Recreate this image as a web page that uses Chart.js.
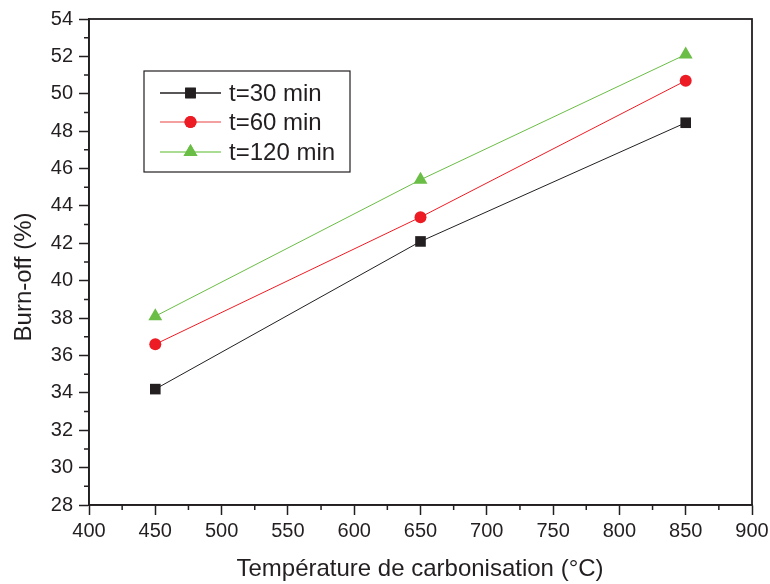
<!DOCTYPE html>
<html>
<head>
<meta charset="utf-8">
<script src="https://cdn.jsdelivr.net/npm/chart.js@4/dist/chart.umd.min.js"></script>
<style>
  html, body { margin: 0; padding: 0; background: #fff; }
  #wrap { width: 770px; height: 584px; }
</style>
</head>
<body>
<div id="wrap"><canvas id="chart" width="770" height="584"></canvas></div>
<script>
// data
const temperatures = [450, 650, 850];
const burnOff30 = [34.2, 42.1, 48.45];
const burnOff60 = [36.6, 43.4, 50.7];
const burnOff120 = [38.1, 45.4, 52.1];
const seriesLabels = ['t=30 min', 't=60 min', 't=120 min'];

const xTicks = [400, 450, 500, 550, 600, 650, 700, 750, 800, 850, 900];
const yTicks = [28, 30, 32, 34, 36, 38, 40, 42, 44, 46, 48, 50, 52, 54];

const ink = '#231f20';
const fontFam = 'Liberation Sans, Arial, Helvetica, sans-serif';

function pts(ys) {
  return temperatures.map((x, i) => ({ x: x, y: ys[i] }));
}

const datasets = [
  { label: seriesLabels[0], data: pts(burnOff30), borderColor: ink, backgroundColor: ink,
    pointStyle: 'rect', pointRadius: 7.5, lineColor: ink },
  { label: seriesLabels[1], data: pts(burnOff60), borderColor: '#ed1c24', backgroundColor: '#ed1c24',
    pointStyle: 'circle', pointRadius: 6, lineColor: '#f08080' },
  { label: seriesLabels[2], data: pts(burnOff120), borderColor: '#6abd45', backgroundColor: '#6abd45',
    pointStyle: 'triangle', pointRadius: 8, lineColor: '#8fd070' },
];
datasets.forEach(d => {
  d.borderWidth = 1;
  d.pointBorderWidth = 0;
  d.pointHoverRadius = d.pointRadius;
  d.tension = 0;
  d.showLine = true;
});

// frame, minor ticks, axis titles and legend box
const extras = {
  id: 'extras',
  afterDraw(chart) {
    const ctx = chart.ctx;
    const a = chart.chartArea;
    const xs = chart.scales.x, ys = chart.scales.y;
    ctx.save();
    ctx.strokeStyle = ink;
    ctx.lineWidth = 1.8;
    ctx.strokeRect(a.left, a.top, a.right - a.left, a.bottom - a.top);

    // minor ticks
    ctx.lineWidth = 1.5;
    ctx.beginPath();
    for (let i = 0; i < xTicks.length - 1; i++) {
      const px = xs.getPixelForValue((xTicks[i] + xTicks[i + 1]) / 2);
      ctx.moveTo(px, a.bottom);
      ctx.lineTo(px, a.bottom + 5);
    }
    for (let i = 0; i < yTicks.length - 1; i++) {
      const py = ys.getPixelForValue((yTicks[i] + yTicks[i + 1]) / 2);
      ctx.moveTo(a.left, py);
      ctx.lineTo(a.left - 5, py);
    }
    ctx.stroke();

    // axis titles
    ctx.fillStyle = ink;
    ctx.font = '24px ' + fontFam;
    ctx.textAlign = 'center';
    ctx.textBaseline = 'middle';
    ctx.fillText('Température de carbonisation (°C)', 420, 569);
    ctx.save();
    ctx.translate(24, 277);
    ctx.rotate(-Math.PI / 2);
    ctx.fillText('Burn-off (%)', 0, 0);
    ctx.restore();

    // legend
    ctx.lineWidth = 1.2;
    ctx.strokeStyle = ink;
    ctx.strokeRect(144, 71, 206, 101);
    const rows = [93, 122, 152];
    chart.data.datasets.forEach((d, i) => {
      const y = rows[i];
      ctx.strokeStyle = d.lineColor;
      ctx.lineWidth = 1.5;
      ctx.beginPath();
      ctx.moveTo(160, y);
      ctx.lineTo(221, y);
      ctx.stroke();
      ctx.fillStyle = d.backgroundColor;
      Chart.helpers.drawPoint(ctx, { pointStyle: d.pointStyle, radius: d.pointRadius, borderWidth: 0 }, 190.5, y);
      ctx.fill();
      ctx.fillStyle = ink;
      ctx.font = '24px ' + fontFam;
      ctx.textAlign = 'left';
      ctx.fillText(d.label, 229, y + 1);
    });
    ctx.restore();
  }
};

new Chart(document.getElementById('chart'), {
  type: 'scatter',
  data: { datasets: datasets },
  options: {
    responsive: false,
    animation: false,
    layout: { padding: { top: 19, right: 18, left: 0, bottom: 0 } },
    plugins: { legend: { display: false }, tooltip: { enabled: false } },
    scales: {
      x: {
        type: 'linear', min: 400, max: 900,
        afterBuildTicks: s => { s.ticks = xTicks.map(v => ({ value: v })); },
        afterFit: s => { s.height = 79; s.paddingLeft = 0; s.paddingRight = 0; },
        grid: { drawOnChartArea: false, drawTicks: true, tickLength: 10, tickWidth: 1.5, tickColor: ink },
        border: { display: true, color: ink, width: 1.5 },
        ticks: { color: ink, font: { size: 20, family: fontFam }, padding: 4, maxRotation: 0 }
      },
      y: {
        type: 'linear', min: 28, max: 54,
        afterBuildTicks: s => { s.ticks = yTicks.map(v => ({ value: v })); },
        afterFit: s => { s.width = 89; s.paddingTop = 0; s.paddingBottom = 0; },
        grid: { drawOnChartArea: false, drawTicks: true, tickLength: 10, tickWidth: 1.5, tickColor: ink },
        border: { display: true, color: ink, width: 1.5 },
        ticks: { color: ink, font: { size: 20, family: fontFam }, padding: 6 }
      }
    }
  },
  plugins: [extras]
});
</script>
</body>
</html>
